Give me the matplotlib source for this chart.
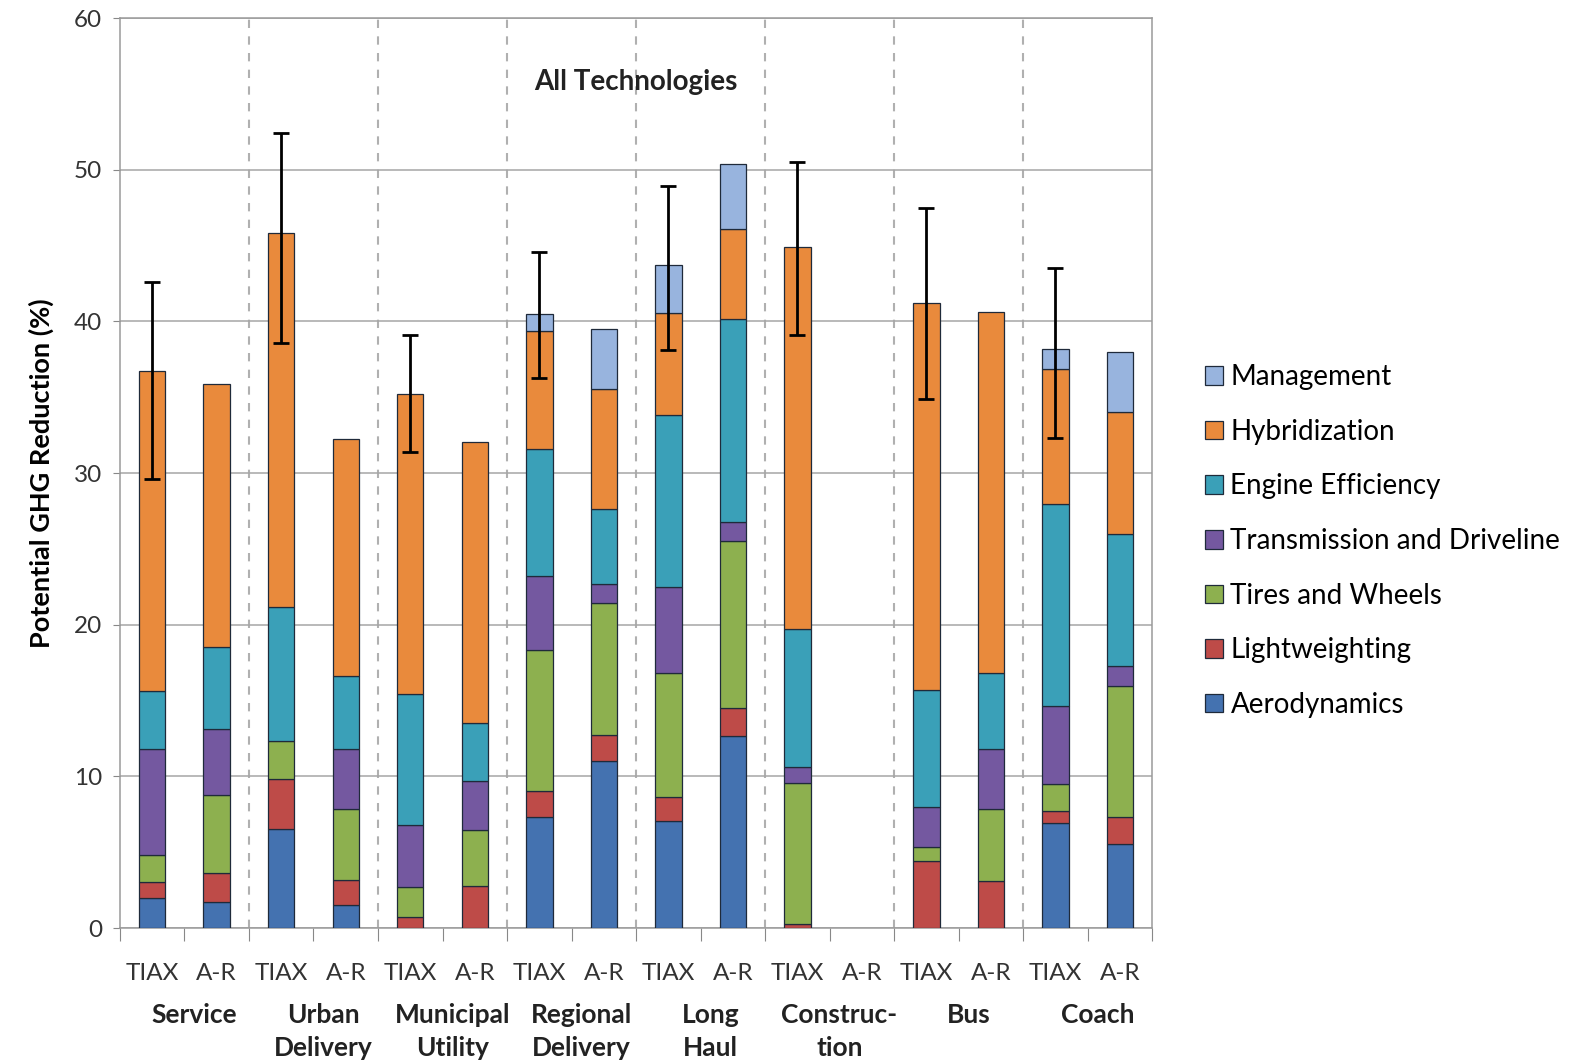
import numpy as np
import matplotlib.pyplot as plt

plt.rcParams['font.family'] = ['Lato', 'DejaVu Sans']

# bars: TIAX / A-R for each vehicle class
bar_labels = ['TIAX', 'A-R'] * 8
groups = ['Service', 'Urban\nDelivery', 'Municipal\nUtility', 'Regional\nDelivery',
          'Long\nHaul', 'Construc-\ntion', 'Bus', 'Coach']

# segment values (% reduction), one value per bar
aerodynamics = [2.0, 1.7, 6.5, 1.5, 0.0, 0.0, 7.3, 11.0, 7.05, 12.65, 0.0, 0.0, 0.0, 0.0, 6.9, 5.55]
lightweighting = [1.05, 1.9, 3.3, 1.65, 0.76, 2.75, 1.75, 1.75, 1.6, 1.85, 0.25, 0.0, 4.45, 3.1, 0.85, 1.75]
tires = [1.75, 5.2, 2.55, 4.7, 1.95, 3.7, 9.3, 8.65, 8.15, 11.05, 9.3, 0.0, 0.9, 4.75, 1.75, 8.65]
transmission = [7.0, 4.3, 0.0, 3.95, 4.1, 3.25, 4.85, 1.3, 5.7, 1.25, 1.05, 0.0, 2.65, 3.95, 5.15, 1.35]
engine = [3.8, 5.4, 8.85, 4.85, 8.65, 3.8, 8.4, 4.9, 11.3, 13.35, 9.1, 0.0, 7.7, 5.0, 13.3, 8.7]
hybridization = [21.1, 17.4, 24.6, 15.6, 19.75, 18.55, 7.75, 7.95, 6.75, 5.95, 25.2, 0.0, 25.5, 23.8, 8.9, 8.0]
management = [0.0, 0.0, 0.0, 0.0, 0.0, 0.0, 1.15, 3.95, 3.15, 4.3, 0.0, 0.0, 0.0, 0.0, 1.3, 4.0]

# error bar ends (TIAX only)
err_low = [29.6, np.nan, 38.6, np.nan, 31.4, np.nan, 36.25, np.nan, 38.1, np.nan, 39.1, np.nan, 34.9, np.nan, 32.3, np.nan]
err_high = [42.6, np.nan, 52.4, np.nan, 39.1, np.nan, 44.6, np.nan, 48.9, np.nan, 50.5, np.nan, 47.45, np.nan, 43.5, np.nan]

series = [
    ('Aerodynamics', aerodynamics, '#4472B0'),
    ('Lightweighting', lightweighting, '#BE4B48'),
    ('Tires and Wheels', tires, '#8DB04F'),
    ('Transmission and Driveline', transmission, '#7458A0'),
    ('Engine Efficiency', engine, '#3AA0B8'),
    ('Hybridization', hybridization, '#E98A3C'),
    ('Management', management, '#98B4DE'),
]

fig = plt.figure(figsize=(15.76, 10.61), dpi=100)
ax = fig.add_axes([0.0761, 0.1253, 0.655, 0.8577])

x = np.arange(len(bar_labels))
bottom = np.zeros(len(x))
handles = []
for name, vals, col in series:
    vals = np.array(vals)
    nz = vals > 0  # skip empty segments so no stray outlines appear
    h = ax.bar(x[nz], vals[nz], 0.41, bottom=bottom[nz], color=col, edgecolor='#1f2a3a',
               linewidth=0.9, label=name, zorder=3)
    handles.append(h)
    bottom += vals

# error bars on TIAX bars
totals = bottom
lo = np.array(err_low)
hi = np.array(err_high)
mask = ~np.isnan(lo)
ax.errorbar(x[mask], totals[mask], yerr=[totals[mask] - lo[mask], hi[mask] - totals[mask]],
            fmt='none', ecolor='black', elinewidth=2, capsize=5.5, capthick=2, zorder=4)

# dashed separators between vehicle classes
for b in np.arange(1.5, 15, 2):
    ax.axvline(b, color='#b0b0b0', linestyle=(0, (4, 4)), linewidth=1.5, zorder=1)

ax.set_xlim(-0.5, 15.5)
ax.set_ylim(0, 60)
ax.set_yticks(np.arange(0, 61, 10))
ax.yaxis.grid(True, color='#a6a6a6', linewidth=1.1, zorder=0)
ax.tick_params(axis='y', labelsize=17.5, length=5, color='#888888', colors='#333333', pad=8)
for s in ax.spines.values():
    s.set_color('#9a9a9a')
    s.set_linewidth(1.1)

ax.set_xticks(np.arange(-0.5, 16, 1))
ax.set_xticklabels([])
ax.tick_params(axis='x', length=9, color='#888888')
for i, lab in enumerate(bar_labels):
    ax.text(i, -3.0, lab, ha='center', va='center', fontsize=17.5, color='#333333')
for g, name in enumerate(groups):
    ax.text(2 * g + 0.65, -4.95, name, ha='center', va='top', fontsize=19,
            fontweight='bold', color='#222222', linespacing=1.45)

ax.set_ylabel('Potential GHG Reduction (%)', fontsize=19.5, fontweight='bold', labelpad=14)
ax.text(7.5, 55.8, 'All Technologies', ha='center', va='center', fontsize=20,
        fontweight='bold', color='#222222')

fig.legend(handles[::-1], [s[0] for s in series][::-1], loc='center left',
           bbox_to_anchor=(0.749, 0.49), frameon=False, fontsize=20,
           handlelength=0.65, handleheight=0.65, handletextpad=0.25, labelspacing=1.03)

fig.savefig('out.png', dpi=100)
